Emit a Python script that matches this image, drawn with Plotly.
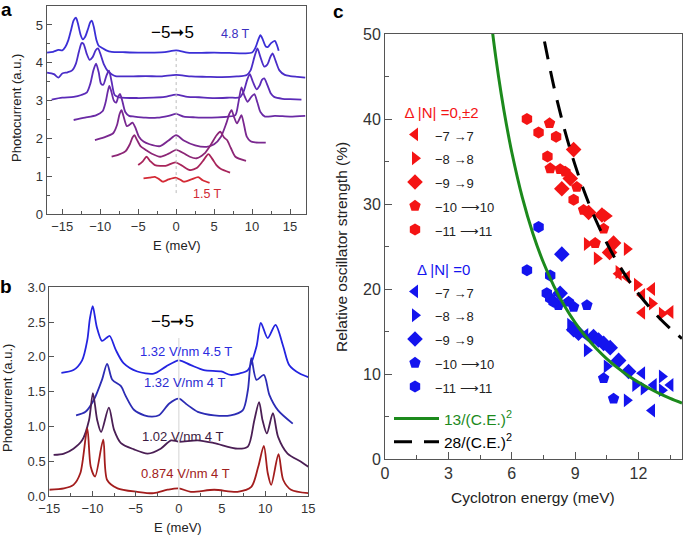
import plotly.graph_objects as go

# ---------------- Panel a: spectra at different fields (offset curves) ----------------
A_LABELS = ["4.8 T", "c2", "c3", "c4", "c5", "c6", "c7", "1.5 T"]
A_COLORS = ["#3b2fd6", "#4a2dc8", "#5b2bb8", "#6a2aa5", "#7a2890", "#8c2676", "#a8245a", "#d42a35"]

A1_E = [-17.0, -16.2, -15.5, -15.0, -14.6, -14.2, -13.8, -13.5, -13.2, -12.95, -12.6, -12.3, -12.0, -11.6, -11.3, -11.1,
        -10.85, -10.5, -10.2, -9.8, -9.2, -8.5, -7, -5, -3, -1.5, 0, 1.5, 3, 5, 7, 9,
        10.0, 10.4, 10.8, 11.1, 11.4, 11.8, 12.1, 12.5, 13.0, 13.3, 13.5]
A1_Y = [4.27, 4.29, 4.34, 4.33, 4.42, 4.6, 4.9, 5.12, 5.19, 5.05, 4.75, 4.62, 4.68, 4.9, 5.08, 5.11,
        4.95, 4.6, 4.45, 4.40, 4.33, 4.29, 4.28, 4.27, 4.27, 4.28, 4.33, 4.27, 4.26, 4.27, 4.26, 4.25,
        4.27, 4.38, 4.6, 4.73, 4.62, 4.43, 4.42, 4.52, 4.58, 4.45, 4.32]

A2_E = [-17.0, -16.1, -15.5, -15.0, -14.3, -13.7, -13.2, -12.8, -12.45, -12.2, -11.8, -11.4, -11.0, -10.6, -10.3, -10.0,
        -9.5, -9.0, -8.5, -8.0, -6, -4, -2, 0, 2, 4, 6, 8,
        9.3, 9.8, 10.3, 10.7, 11.1, 11.6, 12.0, 12.4, 12.7, 13.1, 13.6, 14.3, 15.0, 16, 17.0]
A2_Y = [3.74, 3.70, 3.61, 3.72, 3.75, 3.8, 3.98, 4.3, 4.52, 4.5, 4.25, 4.08, 4.15, 4.33, 4.38, 4.25,
        3.95, 3.78, 3.7, 3.65, 3.64, 3.65, 3.64, 3.68, 3.64, 3.63, 3.62, 3.64,
        3.68, 3.8, 4.15, 4.38, 4.15, 3.9, 3.95, 4.15, 4.25, 4.05, 3.8, 3.68, 3.65, 3.63, 3.61]

A3_E = [-16.4, -15, -13.5, -12.5, -11.75, -11.3, -10.9, -10.55, -10.2, -9.9, -9.6, -9.2, -8.85, -8.5, -8.1, -7.5,
        -5, -3, -1.5, 0, 1.5, 3, 5, 7,
        8.4, 8.9, 9.35, 9.7, 10.1, 10.6, 11.0, 11.3, 11.6, 12.0, 12.5, 12.9, 14, 15, 16.5]
A3_Y = [3.03, 3.08, 3.10, 3.15, 3.22, 3.45, 3.8, 3.98, 3.75, 3.45, 3.42, 3.65, 3.79, 3.5, 3.15, 3.09,
        3.07, 3.08, 3.1, 3.16, 3.1, 3.09, 3.07, 3.08,
        3.09, 3.25, 3.55, 3.70, 3.5, 3.3, 3.4, 3.55, 3.59, 3.42, 3.18, 3.10, 3.05, 3.04, 3.03]

A4_E = [-13.5, -12, -10.5, -9.7, -9.3, -9.0, -8.8, -8.55, -8.2, -7.9, -7.6, -7.4, -7.1, -6.7, -6.2, -5.5,
        -4, -2.5, -1, 0, 1, 2.5, 4, 5.5, 6.8, 7.8,
        8.2, 8.6, 8.95, 9.4, 9.9, 10.3, 10.7, 11.1, 11.7, 13, 15, 17.0]
A4_Y = [2.49, 2.55, 2.62, 2.72, 2.95, 3.25, 3.39, 3.25, 3.0, 2.95, 3.12, 3.18, 3.0, 2.7, 2.6, 2.58,
        2.55, 2.55, 2.6, 2.65, 2.58, 2.56, 2.55, 2.56, 2.58, 2.62,
        2.95, 3.35, 3.15, 2.97, 3.1, 3.17, 2.95, 2.7, 2.58, 2.6, 2.58, 2.6]

A5_E = [-10.7, -9.5, -8.3, -7.8, -7.45, -7.2, -6.95, -6.5, -6.1, -5.75, -5.4, -4.9, -4.3, -3.5, -2.1, -1, 0, 1, 2.5,
        4.0, 5.0, 5.9, 6.6, 7.0, 7.3, 7.6, 8.0, 8.3, 8.6, 8.9, 9.3, 9.8, 10.4, 11.8]
A5_Y = [1.96, 2.03, 2.14, 2.35, 2.65, 2.75, 2.6, 2.33, 2.37, 2.42, 2.3, 2.05, 1.92, 1.85, 1.80, 1.95, 2.09, 1.95, 1.82,
        1.78, 1.85, 2.05, 2.4, 2.65, 2.75, 2.58, 2.4, 2.5, 2.62, 2.4, 2.05, 1.93, 1.9, 1.89]

A6_E = [-8.5, -7.5, -6.7, -6.1, -5.75, -5.5, -5.2, -4.7, -4.0, -3.2, -2.1, -1, 0, 1.0, 1.8, 2.7, 3.7, 4.6, 5.3, 5.8,
        6.3, 6.7, 7.2, 7.8, 9.2]
A6_Y = [1.52, 1.58, 1.66, 1.85, 2.03, 2.09, 1.98, 1.8, 1.7, 1.6, 1.52, 1.6, 1.70, 1.61, 1.52, 1.48, 1.6, 1.85, 2.08, 2.18,
        2.03, 1.96, 1.75, 1.52, 1.41]

A7_E = [-5.0, -4.4, -3.9, -3.4, -2.8, -1.4, -0.1, 0.8, 1.8, 2.7, 3.5, 4.25, 4.8, 5.3, 5.8, 7.1]
A7_Y = [1.30, 1.40, 1.52, 1.40, 1.30, 1.28, 1.37, 1.28, 1.17, 1.22, 1.40, 1.59, 1.45, 1.30, 1.21, 1.10]

A8_E = [-4.3, -3.5, -2.8, -2.2, -1.75, -1.0, -0.1, 0.5, 1.0, 2.0, 2.9, 3.5, 4.4]
A8_Y = [0.95, 0.97, 0.99, 0.92, 0.86, 0.92, 0.97, 0.92, 0.86, 0.92, 0.98, 0.9, 0.83]

A_E = [A1_E, A2_E, A3_E, A4_E, A5_E, A6_E, A7_E, A8_E]
A_Y = [A1_Y, A2_Y, A3_Y, A4_Y, A5_Y, A6_Y, A7_Y, A8_Y]

# ---------------- Panel b: spectra at different displacement fields ----------------
B_LABELS = ["1.32 V/nm 4.5 T", "1.32 V/nm 4 T", "1.02 V/nm 4 T", "0.874 V/nm 4 T"]
B_COLORS = ["#2424e0", "#2c2cb4", "#4b1f55", "#a31d1d"]

B1_E = [-13.6, -12.2, -11.2, -10.6, -10.3, -9.97, -9.5, -8.9, -8.4, -8.0, -7.3, -6.4, -4.8, -2.9, -1.5, 0.0, 1.4, 2.9,
        4.9, 6.0, 7.0, 8.0, 9.0, 9.5, 10.3, 11.2, 12.1, 12.8, 14.0, 15.0]
B1_Y = [1.77, 1.81, 1.95, 2.24, 2.55, 2.73, 2.43, 2.23, 2.27, 2.30, 2.10, 1.91, 1.79, 1.76, 1.86, 1.95, 1.88, 1.81,
        1.79, 1.74, 1.76, 1.81, 2.15, 2.49, 2.27, 2.46, 2.15, 1.88, 1.76, 1.71]

B2_E = [-11.9, -10.8, -9.85, -8.9, -8.3, -7.7, -6.7, -6.2, -5.2, -4.0, -3.1, -2.3, -1.1, 0.0, 1.0, 2.2, 4.1, 6.0,
        7.4, 8.0, 8.4, 9.0, 9.85, 10.5, 11.5, 13.2]
B2_Y = [1.16, 1.21, 1.38, 1.67, 1.90, 1.67, 1.58, 1.45, 1.24, 1.16, 1.14, 1.16, 1.33, 1.40, 1.31, 1.21, 1.16, 1.16,
        1.23, 1.52, 1.98, 1.67, 1.74, 1.45, 1.23, 1.04]

B3_E = [-14.5, -13.3, -12.2, -11.2, -10.4, -9.95, -9.45, -9.0, -8.1, -7.5, -6.7, -5.2, -3.6, -2.1, -0.9, 0.0, 2.2, 4.1,
        6.8, 8.0, 8.75, 9.3, 9.7, 10.2, 10.9, 11.5, 12.6, 14.2, 15.0]
B3_Y = [0.59, 0.61, 0.68, 0.80, 1.09, 1.48, 1.09, 0.92, 1.27, 0.95, 0.76, 0.67, 0.61, 0.68, 0.80, 0.78, 0.80, 0.76,
        0.68, 0.71, 1.09, 1.35, 1.09, 0.90, 1.19, 0.85, 0.61, 0.49, 0.42]

B4_E = [-15.0, -13.3, -12.2, -11.4, -10.6, -10.2, -9.7, -8.75, -8.3, -7.1, -4.8, -2.9, -1.3, 0.0, 1.4, 4.1, 6.8, 8.4,
        9.2, 9.85, 10.3, 10.7, 11.55, 12.1, 13.0, 15.0]
B4_Y = [0.09, 0.11, 0.16, 0.33, 0.97, 0.42, 0.28, 0.81, 0.23, 0.11, 0.06, 0.04, 0.09, 0.11, 0.06, 0.09, 0.06, 0.13,
        0.42, 0.72, 0.33, 0.16, 0.60, 0.23, 0.09, 0.04]

B_E = [B1_E, B2_E, B3_E, B4_E]
B_Y = [B1_Y, B2_Y, B3_Y, B4_Y]

# ---------------- Panel c: relative oscillator strength vs cyclotron energy ----------------
TRANSITIONS = ["−7 →7", "−8 →8", "−9 →9", "−10 ⟶10", "−11 ⟶11"]
SYMBOLS = ["triangle-left", "triangle-right", "diamond", "pentagon", "hexagon"]

RED_X = [
    [11.06, 11.45, 12.64, 12.17, 12.17, 13.51],                       # -7 -> 7
    [10.5, 9.56, 11.45, 10.03, 11.06, 11.93, 12.64, 13.11],           # -8 -> 8
    [8.93, 8.77, 8.37, 9.64, 10.82, 10.63, 10.27],                    # -9 -> 9
    [7.79, 7.82, 8.53, 9.08, 9.40, 10.35, 9.95, 8.29],                # -10 -> 10
    [6.72, 7.27, 8.10, 7.69, 8.93],                                   # -11 -> 11
]
RED_Y = [
    [21.8, 21.4, 20.0, 19.3, 17.2, 17.3],
    [28.6, 25.3, 24.7, 23.6, 22.0, 20.5, 18.3, 17.1],
    [36.4, 33.0, 31.8, 29.0, 25.4, 24.3, 28.7],
    [39.5, 34.2, 33.8, 32.0, 29.3, 27.1, 25.4, 34.1],
    [40.0, 38.4, 37.9, 35.6, 30.5],
]
BLUE_X = [
    [12.17, 12.72, 13.51, 12.64, 9.48],
    [8.77, 9.56, 10.5, 11.85, 13.11, 13.11, 11.45, 12.25],
    [8.37, 8.29, 8.93, 9.16, 9.87, 10.11, 10.35, 10.66, 11.06, 11.53],
    [8.21, 8.69, 8.93, 9.56, 10.35, 10.82],
    [7.27, 6.72, 7.82, 7.66, 7.82, 7.98],
]
BLUE_Y = [
    [10.1, 8.7, 8.7, 5.7, 14.6],
    [15.8, 12.8, 10.9, 8.7, 9.7, 8.1, 6.9, 8.3],
    [24.1, 19.5, 15.2, 14.8, 14.4, 14.0, 13.6, 13.1, 11.6, 10.3],
    [18.1, 18.5, 17.9, 18.1, 9.5, 7.1],
    [27.3, 22.2, 21.6, 19.5, 18.9, 18.5],
]

# Fit curves: strength(%) = coef / (C.E.)^2  (coef in units giving the labelled 13 and 28)
FIT_COEFS = [13, 28]
FIT_NAMES = ["13/(C.E.)<sup>2</sup>", "28/(C.E.)<sup>2</sup>"]
FIT_X = [5.0, 5.25, 5.5, 5.75, 6.0, 6.5, 7.0, 7.5, 8.0, 8.5, 9.0, 9.5, 10.0, 10.5, 11.0, 11.5, 12.0, 12.5, 13.0, 13.5, 14.06]
FIT_START = [5.0, 7.55]

RED = "#f41414"
BLUE = "#1414ee"
GREEN = "#1c8a1c"

FONT = "Liberation Sans, Arial, Helvetica, sans-serif"
AXC = "#555555"

fig = go.Figure()

for E, Y, col in zip(A_E, A_Y, A_COLORS):
    fig.add_trace(go.Scatter(x=E, y=Y, mode="lines", xaxis="x", yaxis="y", showlegend=False,
                             line=dict(color=col, width=1.8, shape="spline", smoothing=0.7)))

for E, Y, col in zip(B_E, B_Y, B_COLORS):
    fig.add_trace(go.Scatter(x=E, y=Y, mode="lines", xaxis="x2", yaxis="y2", showlegend=False,
                             line=dict(color=col, width=1.8, shape="spline", smoothing=0.8)))

for name, sym, xs, ys in zip(TRANSITIONS, SYMBOLS, RED_X, RED_Y):
    fig.add_trace(go.Scatter(x=xs, y=ys, mode="markers", xaxis="x3", yaxis="y3", legend="legend",
                             name="<span style='font-size:13px'>" + name + "</span>",
                             marker=dict(symbol=sym, size=12, color=RED, line=dict(width=0))))
for name, sym, xs, ys in zip(TRANSITIONS, SYMBOLS, BLUE_X, BLUE_Y):
    fig.add_trace(go.Scatter(x=xs, y=ys, mode="markers", xaxis="x3", yaxis="y3", legend="legend2",
                             name="<span style='font-size:13px'>" + name + "</span>",
                             marker=dict(symbol=sym, size=12, color=BLUE, line=dict(width=0))))

fit_styles = [dict(color=GREEN, width=3), dict(color="black", width=3, dash="18px,12px")]
fit_text_colors = [GREEN, "black"]
for coef, nm, x0, st, tc in zip(FIT_COEFS, FIT_NAMES, FIT_START, fit_styles, fit_text_colors):
    xs = [x0] + [v for v in FIT_X if v > x0]
    ys = [coef * 100.0 / (v * v) for v in xs]
    fig.add_trace(go.Scatter(x=xs, y=ys, mode="lines", xaxis="x3", yaxis="y3", legend="legend3",
                             name="<span style='color:%s'>%s</span>" % (tc, nm),
                             line=dict(shape="spline", **st)))


def ax(**kw):
    d = dict(showline=True, linecolor=AXC, linewidth=1, mirror=True, ticks="inside", ticklen=5,
             tickcolor=AXC, showgrid=False, zeroline=False, automargin=False,
             tickfont=dict(family=FONT, size=13, color="#333333"))
    d.update(kw)
    return d


W, H = 685, 537


def px(x0, x1):
    return [x0 / W, x1 / W]


def py(top, bottom):
    return [1 - bottom / H, 1 - top / H]


fig.update_layout(
    width=W, height=H, margin=dict(l=0, r=0, t=0, b=0, autoexpand=False),
    paper_bgcolor="white", plot_bgcolor="white",
    font=dict(family=FONT, color="#222222"),
    xaxis=ax(domain=px(46.7, 306), range=[-17.05, 17.1], tickmode="linear", tick0=0, dtick=5,
             minor=dict(dtick=2.5, ticks="inside", ticklen=3, tickcolor=AXC), anchor="y"),
    yaxis=ax(domain=py(6, 214.3), range=[0, 5.5], tickmode="linear", tick0=0, dtick=1,
             minor=dict(dtick=0.5, ticks="inside", ticklen=3, tickcolor=AXC), anchor="x"),
    xaxis2=ax(domain=px(49.3, 308.3), range=[-15, 15], tickmode="linear", tick0=0, dtick=5,
              minor=dict(dtick=2.5, ticks="inside", ticklen=3, tickcolor=AXC), anchor="y2"),
    yaxis2=ax(domain=py(287.3, 496), range=[0, 3], tickmode="linear", tick0=0, dtick=0.5,
              tickformat=".1f", anchor="x2"),
    xaxis3=ax(domain=px(385, 682), range=[0, 14.06], tickmode="linear", tick0=0, dtick=3, ticklen=7,
              minor=dict(dtick=1.5, ticks="inside", ticklen=4, tickcolor=AXC), anchor="y3",
              tickfont=dict(family=FONT, size=16, color="#333333")),
    yaxis3=ax(domain=py(34, 459), range=[0, 50], tickmode="linear", tick0=0, dtick=10, ticklen=7,
              minor=dict(dtick=5, ticks="inside", ticklen=4, tickcolor=AXC), anchor="x3",
              tickfont=dict(family=FONT, size=16, color="#333333")),
    legend=dict(x=395 / W, y=1 - 98 / H, xanchor="left", yanchor="top", bgcolor="rgba(0,0,0,0)",
                font=dict(family=FONT, size=16, color="#222222"), itemwidth=30, tracegroupgap=0,
                title=dict(text="  Δ |N| =0,±2", font=dict(family=FONT, size=15, color=RED))),
    legend2=dict(x=395 / W, y=1 - 255 / H, xanchor="left", yanchor="top", bgcolor="rgba(0,0,0,0)",
                 font=dict(family=FONT, size=16, color="#222222"), itemwidth=30, tracegroupgap=0,
                 title=dict(text="     Δ |N| =0", font=dict(family=FONT, size=15, color=BLUE))),
    legend3=dict(x=389 / W, y=1 - 402 / H, xanchor="left", yanchor="top", bgcolor="rgba(0,0,0,0)",
                 font=dict(family=FONT, size=15.5, color="#222222"), itemwidth=45, tracegroupgap=0),
)

# reference lines at E = 0
fig.add_shape(type="line", xref="x", yref="y", x0=0, x1=0, y0=0.56, y1=4.3,
              line=dict(color="#bbbbbb", width=1, dash="dot"))
fig.add_shape(type="line", xref="x2", yref="y2", x0=0, x1=0, y0=0, y1=2.27,
              line=dict(color="#e2e2e2", width=1.5))

ann = []


def A(x, y, text, size=13, color="#222222", angle=0, bold=False, xanchor="center"):
    t = "<b>%s</b>" % text if bold else text
    ann.append(dict(x=x / W, y=1 - y / H, xref="paper", yref="paper", text=t, showarrow=False,
                    font=dict(family=FONT, size=size, color=color), textangle=angle,
                    xanchor=xanchor, yanchor="middle"))


# panel letters
A(6, 9, "a", size=19, bold=True, color="black")
A(6, 286, "b", size=19, bold=True, color="black")
A(338, 12, "c", size=19, bold=True, color="black")

# axis titles
A(16, 108, "Photocurrent (a.u.)", size=13, angle=-90)
A(177, 245, "E (meV)", size=13)
A(7, 398, "Photocurrent (a.u.)", size=13, angle=-90)
A(178, 527, "E (meV)", size=13)
A(341, 247, "Relative oscillator strength (%)", size=15.5, angle=-90)
A(533, 497, "Cyclotron energy (meV)", size=15.5)

# panel a labels
A(172, 33, "−5➞5", size=17, color="black")
A(235, 34, "4.8 T", size=12.5, color="#3b2fc0")
A(207, 194, "1.5 T", size=12.5, color="#d02a35")

# panel b labels
A(172, 321, "−5➞5", size=17, color="black")
label_pos = [(186, 351), (184, 382), (182, 436), (185, 473)]
label_cols = ["#2b2be0", "#2b2bd0", "#3b1a40", "#a02020"]
for (lx, ly), lab, lc in zip(label_pos, B_LABELS, label_cols):
    A(lx, ly, lab, size=13, color=lc)

fig.update_layout(annotations=ann)

fig.write_html("out.html", config={"displayModeBar": False},
               post_script="document.body.style.margin='0';document.body.style.overflow='hidden';")
